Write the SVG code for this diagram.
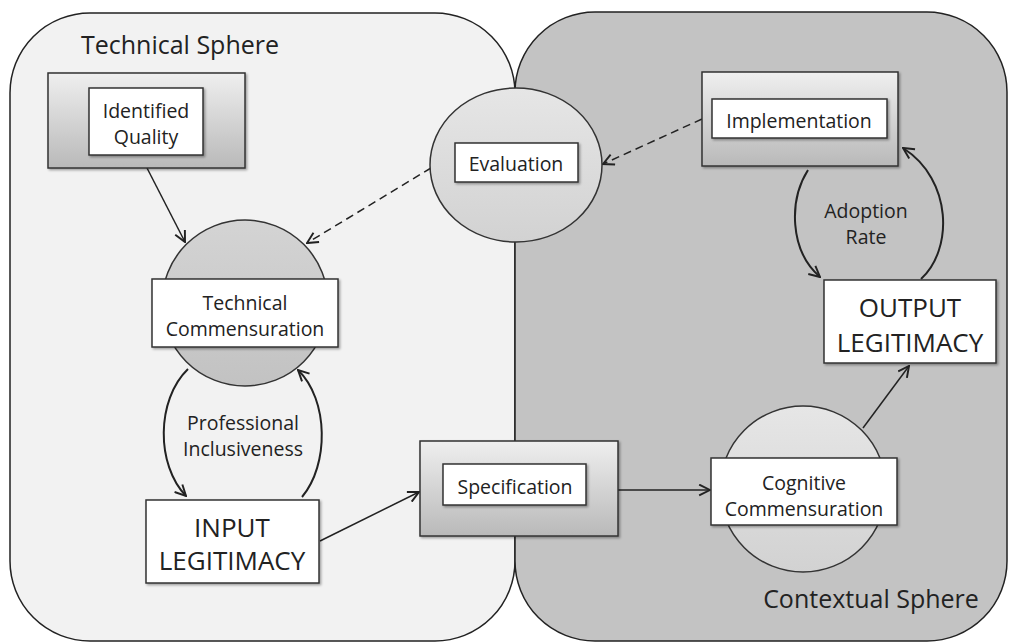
<svg xmlns="http://www.w3.org/2000/svg" width="1009" height="642" viewBox="0 0 1009 642">
<style>
.panel{stroke:#222;stroke-width:1.5}
.t{font-family:"Open Sans","Liberation Sans",sans-serif;fill:#222;text-anchor:middle;dominant-baseline:central}
.s{font-size:19.5px}
.m{font-size:19.5px}
.l{font-size:26px}
.box{fill:#fff;stroke:#333;stroke-width:1.5}
.outer{fill:url(#gbox);stroke:#333;stroke-width:1.5}
.circ{stroke:#333;stroke-width:1.5}
.ln{fill:none;stroke:#222;stroke-width:1.5}
.dash{stroke-dasharray:8 5}
.cv{fill:none;stroke:#222;stroke-width:2}
</style>
<defs>
<linearGradient id="gbox" x1="0" y1="0" x2="0" y2="1">
<stop offset="0" stop-color="#efefef"/>
<stop offset="1" stop-color="#b9b9b9"/>
</linearGradient>
<linearGradient id="gcirc" x1="0" y1="0" x2="0" y2="1">
<stop offset="0" stop-color="#e6e6e6"/>
<stop offset="1" stop-color="#d2d2d2"/>
</linearGradient>
<linearGradient id="gcirc2" x1="0" y1="0" x2="0" y2="1">
<stop offset="0" stop-color="#d4d4d4"/>
<stop offset="1" stop-color="#c2c2c2"/>
</linearGradient>
<filter id="sh" x="-10%" y="-10%" width="130%" height="130%">
<feDropShadow dx="1.5" dy="1.5" stdDeviation="1.2" flood-color="#000" flood-opacity="0.35"/>
</filter>
<marker id="arr" viewBox="0 0 12 12" refX="11" refY="6" markerWidth="13" markerHeight="13" markerUnits="userSpaceOnUse" orient="auto">
<path d="M1,1 L11,6 L1,11" fill="none" stroke="#222" stroke-width="1.8"/>
</marker>
</defs>

<g id="technical-sphere">
<rect class="panel" x="10" y="13" width="505" height="628" rx="80" ry="80" fill="#f2f2f2"/>
<text class="t" x="180" y="44" font-size="25">Technical Sphere</text>
</g>
<g id="contextual-sphere">
<rect class="panel" x="515" y="12" width="492" height="629" rx="80" ry="80" fill="#c3c3c3"/>
<text class="t" x="871" y="598" font-size="25">Contextual Sphere</text>
</g>

<g id="connectors">
<line class="ln" x1="147" y1="168" x2="185" y2="242" marker-end="url(#arr)"/>
<line class="ln dash" x1="431" y1="168" x2="307" y2="243" marker-end="url(#arr)"/>
<line class="ln dash" x1="702" y1="119" x2="603" y2="164" marker-end="url(#arr)"/>
<line class="ln" x1="320" y1="541" x2="419" y2="492" marker-end="url(#arr)"/>
<line class="ln" x1="618" y1="490" x2="710" y2="490" marker-end="url(#arr)"/>
<line class="ln" x1="863" y1="428" x2="909" y2="366" marker-end="url(#arr)"/>
<path class="cv" d="M188,369 C156,400 156,465 186,496" marker-end="url(#arr)"/>
<path class="cv" d="M302,497 C329,465 329,400 298,370" marker-end="url(#arr)"/>
<path class="cv" d="M808,170 C789,200 789,250 820,277" marker-end="url(#arr)"/>
<path class="cv" d="M921,279 C953,250 953,180 903,148" marker-end="url(#arr)"/>
<text class="t s" x="243" y="422">Professional</text>
<text class="t s" x="243" y="448">Inclusiveness</text>
<text class="t s" x="866" y="210">Adoption</text>
<text class="t s" x="866" y="236">Rate</text>
</g>

<g id="identified-quality">
<rect class="outer" x="48" y="73" width="197" height="95" filter="url(#sh)"/>
<rect class="box" x="89" y="88" width="114" height="67" filter="url(#sh)"/>
<text class="t m" x="146" y="110">Identified</text>
<text class="t m" x="146" y="136">Quality</text>
</g>

<g id="evaluation">
<ellipse class="circ" cx="516" cy="165" rx="86" ry="77" fill="url(#gcirc)"/>
<rect class="box" x="455" y="143" width="123" height="39" filter="url(#sh)"/>
<text class="t m" x="516" y="163">Evaluation</text>
</g>

<g id="implementation">
<rect class="outer" x="702" y="72" width="196" height="94" filter="url(#sh)"/>
<rect class="box" x="712" y="99" width="175" height="39" filter="url(#sh)"/>
<text class="t m" x="799" y="120">Implementation</text>
</g>

<g id="technical-commensuration">
<circle class="circ" cx="245" cy="303" r="83" fill="url(#gcirc2)"/>
<rect class="box" x="152" y="279" width="186" height="68" filter="url(#sh)"/>
<text class="t m" x="245" y="302">Technical</text>
<text class="t m" x="245" y="328">Commensuration</text>
</g>

<g id="input-legitimacy">
<rect class="box" x="146" y="500" width="173" height="83" filter="url(#sh)"/>
<text class="t l" x="232" y="527">INPUT</text>
<text class="t l" x="232" y="560">LEGITIMACY</text>
</g>

<g id="specification">
<rect class="outer" x="420" y="441" width="198" height="95" filter="url(#sh)"/>
<rect class="box" x="443" y="464" width="143" height="41" filter="url(#sh)"/>
<text class="t m" x="515" y="486">Specification</text>
</g>

<g id="cognitive-commensuration">
<circle class="circ" cx="803" cy="489" r="83" fill="url(#gcirc)"/>
<rect class="box" x="711" y="458" width="186" height="67" filter="url(#sh)"/>
<text class="t m" x="804" y="482">Cognitive</text>
<text class="t m" x="804" y="508">Commensuration</text>
</g>

<g id="output-legitimacy">
<rect class="box" x="824" y="280" width="172" height="83" filter="url(#sh)"/>
<text class="t l" x="910" y="307">OUTPUT</text>
<text class="t l" x="910" y="342">LEGITIMACY</text>
</g>
</svg>
